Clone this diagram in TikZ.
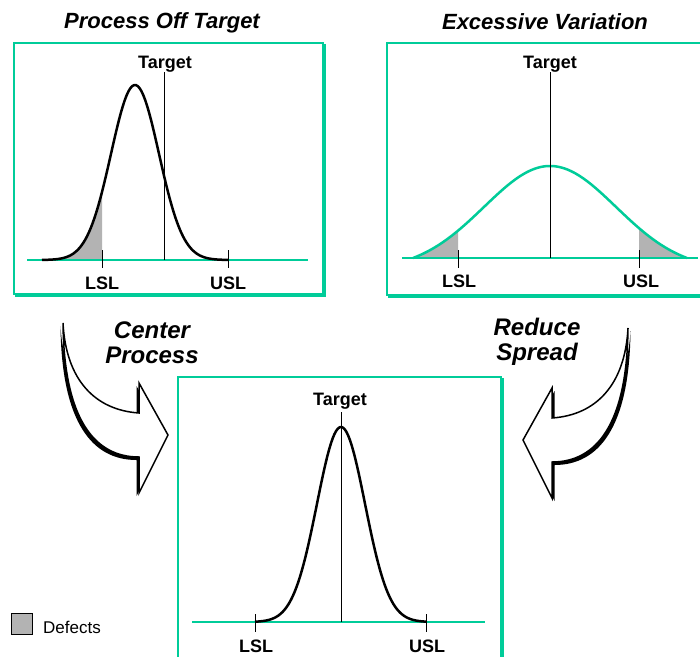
\documentclass[tikz,border=0pt]{standalone}
\usepackage{fontspec}
\setmainfont{Liberation Sans}
\definecolor{specgreen}{RGB}{0, 204, 153}
\definecolor{defgray}{RGB}{179, 179, 179}
\usetikzlibrary{calc}

\tikzset{
  panel/.style={draw=specgreen, line width=1.5pt, fill=white},
  panelshadow/.style={draw=specgreen, line width=2pt},
  axisline/.style={draw=specgreen, line width=2.5pt},
  curve/.style={line width=2.5pt, line join=round},
  tick/.style={line width=1pt},
  paneltitle/.style={font=\fontsize{22}{26}\selectfont\bfseries\itshape, anchor=base, inner sep=0pt},
  speclabel/.style={font=\fontsize{18}{21}\selectfont\bfseries, anchor=base, inner sep=0pt},
  steplabel/.style={font=\fontsize{24}{25}\selectfont\bfseries\itshape, align=center, inner sep=0pt},
  bigarrow/.pic={
    \fill[shift={(-2.5,3)}] (0,0) .. controls (1,97) and (32,134) .. (76,134) -- (76,170) -- (105,112) -- (76,60) -- (76,90) .. controls (32,87) and (3,57) .. (0,0) -- cycle;
    \draw[fill=white, line width=1.5pt] (0,0) .. controls (1,97) and (32,134) .. (76,134) -- (76,170) -- (105,112) -- (76,60) -- (76,90) .. controls (32,87) and (3,57) .. (0,0) -- cycle;
  }
}

\begin{document}
\begin{tikzpicture}[x=1pt, y=-1pt]
  \useasboundingbox (0,0) rectangle (700,656);

  % Process off target
  \draw[panelshadow] (15.5,44.5) rectangle (324.5,295.5);
  \draw[panel] (14,43) rectangle (323,294);
  \node[paneltitle] (offtitle) at (162,28) {Process Off Target};
  \fill[defgray] (42,260) -- plot[domain=42:102, samples=40] (\x, {260-175*exp(-0.5*((\x-135)/24)^2)}) -- (102,260) -- cycle;
  \draw[axisline] (27,260) -- (308,260);
  \draw[curve] plot[domain=42:228, samples=100] (\x, {260-175*exp(-0.5*((\x-135)/24)^2)});
  \draw[tick] (164,72) -- (164,260);
  \draw[tick] (102,250) -- (102,268);
  \draw[tick] (228,250) -- (228,268);
  \node[speclabel] (offtarget) at (165,68) {Target};
  \node[speclabel] (offlsl) at (102,289) {LSL};
  \node[speclabel] (offusl) at (228,289) {USL};

  % Excessive variation
  \draw[panelshadow] (388.5,44.5) rectangle (722,296.5);
  \draw[panel] (387,43) rectangle (720,295);
  \node[paneltitle] (vartitle) at (545,29) {Excessive Variation};
  \fill[defgray] (413,258) -- plot[domain=413:458, samples=30] (\x, {258-92*(exp(-0.5*((\x-550)/66)^2)-0.116)/0.884}) -- (458,258) -- cycle;
  \fill[defgray] (639,258) -- plot[domain=639:687, samples=30] (\x, {258-92*(exp(-0.5*((\x-550)/66)^2)-0.116)/0.884}) -- (687,258) -- cycle;
  \draw[axisline] (402,258) -- (698,258);
  \draw[curve, specgreen] plot[domain=413:687, samples=100] (\x, {258-92*(exp(-0.5*((\x-550)/66)^2)-0.116)/0.884});
  \draw[tick] (550,72) -- (550,258);
  \draw[tick] (458,250) -- (458,268);
  \draw[tick] (639,250) -- (639,268);
  \node[speclabel] (vartarget) at (550,68) {Target};
  \node[speclabel] (varlsl) at (459,287) {LSL};
  \node[speclabel] (varusl) at (641,287) {USL};

  % Improved process
  \draw[panelshadow] (179.5,378.5) rectangle (502.5,690);
  \draw[panel] (178,377) rectangle (501,688);
  \draw[axisline] (192,622) -- (485,622);
  \draw[curve] plot[domain=255:426, samples=100] (\x, {622-195*exp(-0.5*((\x-341)/24)^2)});
  \draw[tick] (341,412) -- (341,622);
  \draw[tick] (255,614) -- (255,632);
  \draw[tick] (426,614) -- (426,632);
  \node[speclabel] (goodtarget) at (340,405) {Target};
  \node[speclabel] (goodlsl) at (256,652) {LSL};
  \node[speclabel] (goodusl) at (427,652) {USL};

  % Big arrows
  \pic at (63,323) {bigarrow};
  \pic[xscale=-1] at (628,328) {bigarrow};
  \node[steplabel] (center) at (152,343) {Center\\Process};
  \node[steplabel] (reduce) at (537,342) {Reduce\\Spread};

  % Legend
  \node[draw, fill=defgray, line width=1pt, minimum size=21pt, inner sep=0pt] (defkey) at (21.5,624) {};
  \node[font=\fontsize{17}{20}\selectfont, anchor=base west, inner sep=0pt] (defects) at (43,633) {Defects};
\end{tikzpicture}
\end{document}
